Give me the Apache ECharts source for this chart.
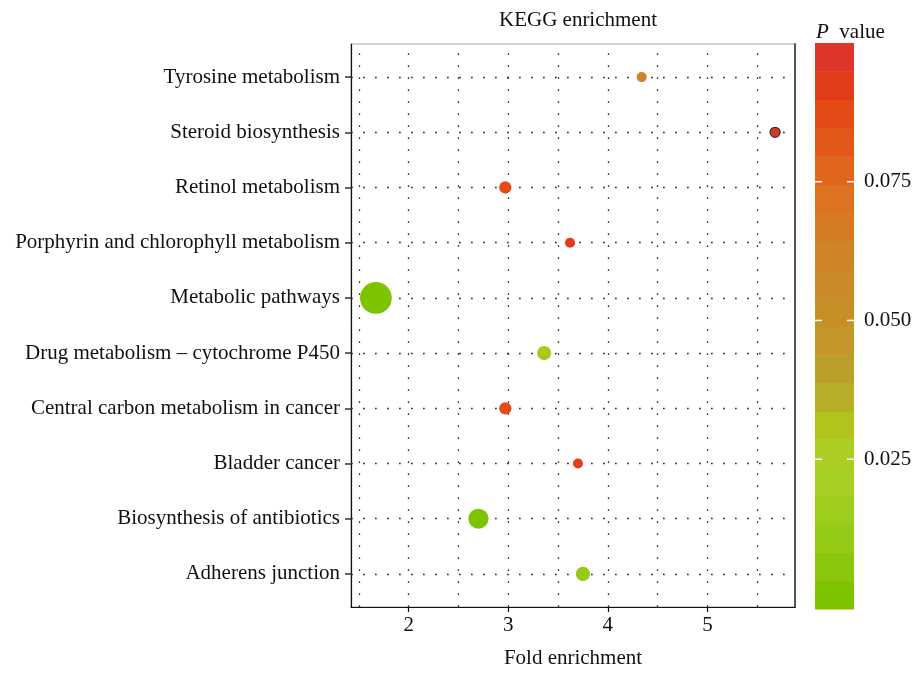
<!DOCTYPE html>
<html>
<head>
<meta charset="utf-8">
<script src="https://cdn.jsdelivr.net/npm/echarts@6/dist/echarts.min.js"></script>
<style>html,body{margin:0;padding:0;background:#fff}#c{width:917px;height:674px}</style>
</head>
<body>
<div id="c"></div>
<script>
// pathways, bottom to top
const pathways = [
  'Adherens junction',
  'Biosynthesis of antibiotics',
  'Bladder cancer',
  'Central carbon metabolism in cancer',
  'Drug metabolism \u2013 cytochrome P450',
  'Metabolic pathways',
  'Porphyrin and chlorophyll metabolism',
  'Retinol metabolism',
  'Steroid biosynthesis',
  'Tyrosine metabolism'
];
const foldEnrichment = [3.75, 2.70, 3.70, 2.97, 3.36, 1.67, 3.62, 2.97, 5.68, 4.34];
const pValues        = [0.011, 0.002, 0.091, 0.087, 0.031, 0.001, 0.092, 0.087, 0.096, 0.062];
const geneCounts     = [4, 8, 2, 3, 4, 20, 2, 3, 2, 2];
const xTicks = [2, 3, 4, 5];
const xGrid = [1.5, 2, 2.5, 3, 3.5, 4, 4.5, 5, 5.5];
const pTicks = [0.025, 0.05, 0.075];

const FONT = 'Liberation Serif';
const FS = 21;
const bandColors = ['#7EC300','#8AC70C','#95CB17','#9ECD1D','#A6CF25','#ACCD22','#B1C41B','#B7AE27','#BAA02B','#C3952A',
                    '#C78F27','#CB8A27','#CF8426','#D57C23','#DB7320','#E0661B','#E35819','#E54B16','#E23D1A','#DF3429'];
const pMin = -0.002, pMax = 0.1;
const step = (pMax - pMin) / bandColors.length;
const bands = bandColors.map((c, i) => [0, pMin + i * step, pMin + (i + 1) * step, i]);
const pieces = bandColors.map((c, i) => ({gte: pMin + i * step, lt: pMin + (i + 1) * step + (i === bandColors.length - 1 ? 1 : 0), color: c}));

const maxP = Math.max.apply(null, pValues);
const points = pathways.map((name, i) => {
  const item = {name: name, value: [foldEnrichment[i], i + 1, pValues[i], geneCounts[i]]};
  if (pValues[i] === maxP) item.itemStyle = {borderColor: '#333', borderWidth: 1.2};
  return item;
});

const yVals = pathways.map((n, i) => i + 1);
const dotted = {color: '#333', width: 1.3, type: [1.8, 10.2]};

const chart = echarts.init(document.getElementById('c'), null, {renderer: 'canvas'});
chart.setOption({
  animation: false,
  textStyle: {fontFamily: FONT},
  title: [
    {text: 'KEGG enrichment', left: 573, top: 5, textAlign: 'center',
     textStyle: {fontFamily: FONT, fontSize: FS, fontWeight: 'normal', color: '#111'}},
    {text: '{i|P}  value', left: 811, top: 17,
     textStyle: {fontFamily: FONT, fontSize: FS, fontWeight: 'normal', color: '#111',
       rich: {i: {fontFamily: FONT, fontSize: FS, fontStyle: 'italic', color: '#111'}}}}
  ],
  grid: [
    {left: 351, right: 122, top: 44, bottom: 65, show: true, borderColor: '#aaa', borderWidth: 1},
    {left: 815, width: 39, top: 43, bottom: 65}
  ],
  visualMap: {type: 'piecewise', show: false, dimension: 2, seriesIndex: 1, pieces: pieces},
  xAxis: [
    {type: 'value', gridIndex: 0, min: 1.42, max: 5.88,
     name: 'Fold enrichment', nameLocation: 'middle', nameGap: 41,
     nameTextStyle: {fontFamily: FONT, fontSize: FS, color: '#111'},
     axisLine: {show: true, lineStyle: {color: '#111', width: 1.2}},
     axisTick: {show: true, customValues: xTicks, length: 5, lineStyle: {color: '#111', width: 1.2}},
     axisLabel: {customValues: xTicks, margin: 8, fontFamily: FONT, fontSize: FS, color: '#111'},
     splitLine: {show: false}},
    {type: 'value', gridIndex: 1, min: 0, max: 1, show: false}
  ],
  yAxis: [
    {type: 'value', gridIndex: 0, min: 0.4, max: 10.6,
     axisLine: {show: true, lineStyle: {color: '#111', width: 1.2}},
     axisTick: {show: true, customValues: yVals, length: 6, lineStyle: {color: '#333', width: 1.5}},
     axisLabel: {customValues: yVals, margin: 11, fontFamily: FONT, fontSize: FS, color: '#111',
       formatter: v => pathways[Math.round(v) - 1]},
     splitLine: {show: false}},
    {type: 'value', gridIndex: 0, min: 0.4, max: 10.6, position: 'right',
     axisLine: {show: true, lineStyle: {color: '#555', width: 2}},
     axisTick: {show: false}, axisLabel: {show: false}, splitLine: {show: false}},
    {type: 'value', gridIndex: 1, min: pMin, max: pMax, position: 'right',
     axisLine: {show: false}, axisTick: {show: false},
     axisLabel: {customValues: pTicks, margin: 10, fontFamily: FONT, fontSize: FS, color: '#111',
       formatter: v => v.toFixed(3)},
     splitLine: {show: false}}
  ],
  series: [
    {type: 'line', xAxisIndex: 0, yAxisIndex: 0, data: [], z: 1, silent: true,
     markLine: {z: 1, silent: true, symbol: 'none', label: {show: false}, lineStyle: dotted, animation: false,
       data: yVals.map(v => ({yAxis: v})).concat(xGrid.map(v => ({xAxis: v})))}},
    {type: 'scatter', xAxisIndex: 0, yAxisIndex: 0, z: 6,
     symbolSize: d => 7.1 * Math.sqrt(d[3]),
     itemStyle: {opacity: 1},
     data: points},
    {type: 'custom', xAxisIndex: 1, yAxisIndex: 2, z: 2, silent: true,
     encode: {x: 0, y: [1, 2]},
     renderItem: function (params, api) {
       const p1 = api.coord([0, api.value(2)]);
       const p2 = api.coord([1, api.value(1)]);
       return {type: 'rect', shape: {x: p1[0], y: p1[1], width: p2[0] - p1[0], height: p2[1] - p1[1] + 0.5},
               style: {fill: bandColors[api.value(3)]}};
     },
     data: bands},
    {type: 'custom', xAxisIndex: 1, yAxisIndex: 2, z: 4, silent: true,
     encode: {x: 0, y: 1},
     renderItem: function (params, api) {
       const l = api.coord([0, api.value(1)]);
       const r = api.coord([1, api.value(1)]);
       const st = {stroke: '#fff', lineWidth: 1.5};
       return {type: 'group', children: [
         {type: 'line', shape: {x1: l[0], y1: l[1], x2: l[0] + 7, y2: l[1]}, style: st},
         {type: 'line', shape: {x1: r[0] - 7, y1: r[1], x2: r[0], y2: r[1]}, style: st}
       ]};
     },
     data: pTicks.map(v => [0, v])}
  ]
});
</script>
</body>
</html>
